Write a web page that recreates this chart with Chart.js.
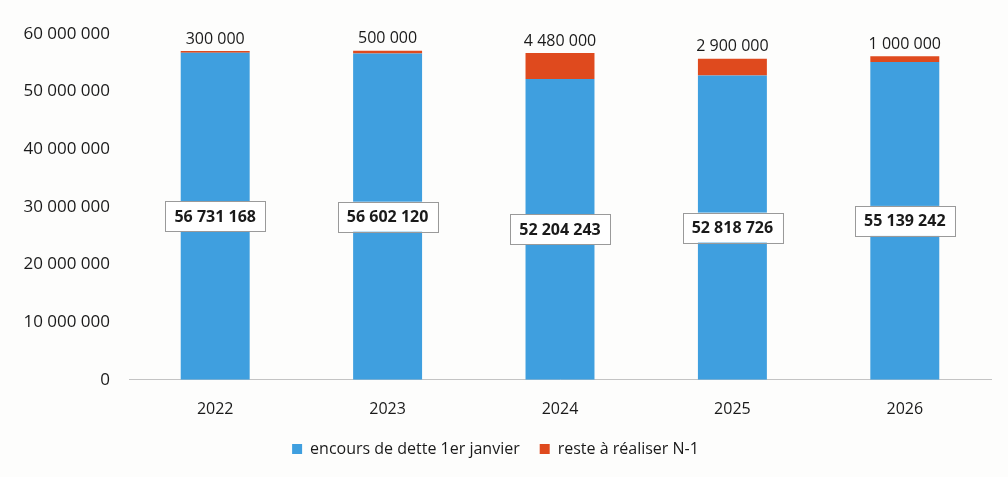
<!DOCTYPE html>
<html>
<head>
<meta charset="utf-8">
<script src="https://cdn.jsdelivr.net/npm/chart.js@4/dist/chart.umd.min.js"></script>
<style>
  html, body { margin: 0; padding: 0; background: #fdfdfc; }
  #wrap { width: 1008px; height: 477px; position: relative; }
</style>
</head>
<body>
<div id="wrap"><canvas id="chart" width="1008" height="477"></canvas></div>
<script>
const years = ['2022', '2023', '2024', '2025', '2026'];
const encours = [56731168, 56602120, 52204243, 52818726, 55139242];
const reste = [300000, 500000, 4480000, 2900000, 1000000];
const yTicks = [0, 10000000, 20000000, 30000000, 40000000, 50000000, 60000000];

const fmt = v => String(v).replace(/\B(?=(\d{3})+(?!\d))/g, ' ');

// labels: boxed value in the middle of the blue bar, plain value on top of the red one
const valueLabels = {
  id: 'valueLabels',
  afterDatasetsDraw(c) {
    const ctx = c.ctx;
    const blue = c.getDatasetMeta(0), red = c.getDatasetMeta(1);
    ctx.save();
    ctx.textAlign = 'center';
    ctx.textBaseline = 'middle';
    blue.data.forEach((bar, i) => {
      const y = (bar.y + bar.base) / 2;
      ctx.font = 'bold 16px "Open Sans"';
      const txt = fmt(encours[i]);
      const w = ctx.measureText(txt).width + 18, h = 30;
      ctx.fillStyle = '#ffffff';
      ctx.fillRect(bar.x - w / 2, y - h / 2, w, h);
      ctx.strokeStyle = '#9a9a9a';
      ctx.lineWidth = 1;
      ctx.strokeRect(Math.round(bar.x - w / 2) + 0.5, Math.round(y - h / 2) + 0.5, Math.round(w), h);
      ctx.fillStyle = '#1a1a1a';
      ctx.fillText(txt, bar.x, y + 1);
    });
    red.data.forEach((bar, i) => {
      ctx.font = '16px "Open Sans"';
      ctx.fillStyle = '#1a1a1a';
      ctx.fillText(fmt(reste[i]), bar.x, bar.y - 12);
    });
    ctx.restore();
  }
};

// keep the wider legend gap without the extra height
const legendFit = {
  id: 'legendFit',
  beforeInit(c) {
    const fit = c.legend.fit;
    c.legend.fit = function () { fit.call(this); this.height -= 3; };
  }
};

new Chart(document.getElementById('chart'), {
  type: 'bar',
  data: {
    labels: years,
    datasets: [
      { label: 'encours de dette 1er janvier', data: encours, backgroundColor: '#3f9fdf', barPercentage: 0.4, categoryPercentage: 1 },
      { label: 'reste à réaliser N-1', data: reste, backgroundColor: '#df4a1e', barPercentage: 0.4, categoryPercentage: 1 }
    ]
  },
  options: {
    responsive: false,
    animation: false,
    layout: { padding: { left: 0, right: 17, top: 34, bottom: 13 } },
    scales: {
      x: {
        stacked: true,
        grid: { display: false },
        border: { display: true, color: '#c4c4c4' },
        ticks: { color: '#1a1a1a', font: { family: 'Open Sans', size: 16 }, padding: 12 },
        afterFit: s => { s.height -= 10; }
      },
      y: {
        stacked: true,
        min: 0,
        max: 60000000,
        grid: { display: false },
        border: { display: false },
        afterBuildTicks: s => { s.ticks = yTicks.map(v => ({ value: v })); },
        ticks: { color: '#1a1a1a', font: { family: 'Open Sans', size: 17 }, padding: 11, callback: v => fmt(v) },
        afterFit: s => { s.width = 129; }
      }
    },
    plugins: {
      legend: {
        position: 'bottom',
        labels: { boxWidth: 10, boxHeight: 10, padding: 20, color: '#1a1a1a', font: { family: 'Open Sans', size: 16 } }
      },
      tooltip: { enabled: false }
    }
  },
  plugins: [valueLabels, legendFit]
});
</script>
</body>
</html>
